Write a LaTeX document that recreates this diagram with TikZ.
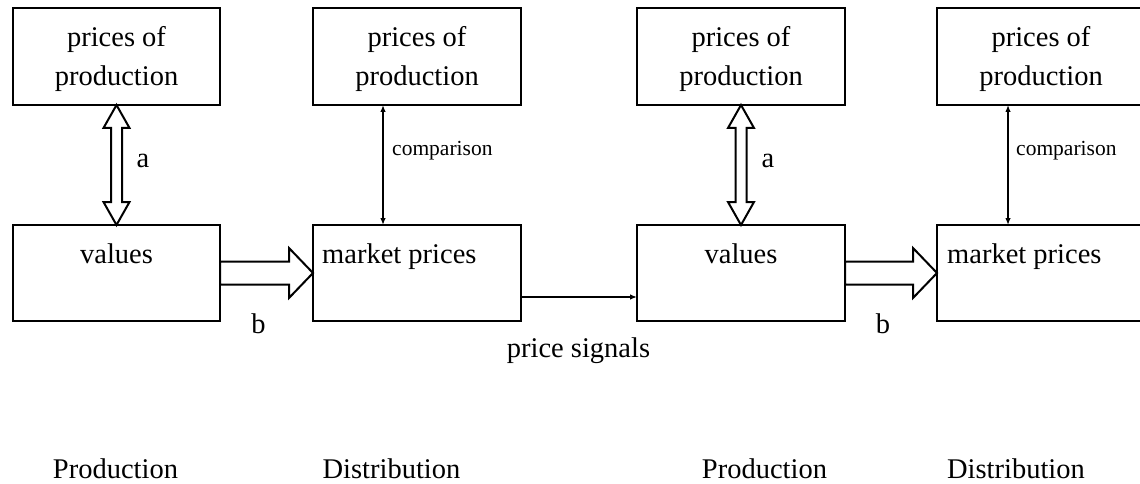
\documentclass[tikz,border=0pt]{standalone}
\usepackage{fontspec}
\setmainfont{Liberation Serif}
\usetikzlibrary{arrows.meta,calc}
\tikzset{
  box/.style={draw, line width=2pt, minimum width=208pt, inner sep=0pt, outer sep=0pt},
  topbox/.style={box, minimum height=97pt},
  botbox/.style={box, minimum height=96pt},
  txt/.style={font=\fontsize{28.5}{34}\selectfont, inner sep=0pt, anchor=base},
  txtw/.style={txt, anchor=base west},
  small/.style={font=\fontsize{21.5}{26}\selectfont, inner sep=0pt, anchor=base west},
  fat/.style={draw, line width=2pt, fill=white, line join=miter},
  thinarr/.style={draw, line width=1.3pt, -{Latex[length=7pt,width=5.5pt]}},
  thinboth/.style={draw, line width=1.3pt, {Latex[length=7pt,width=5.5pt]}-{Latex[length=7pt,width=5.5pt]}}
}
\begin{document}
\begin{tikzpicture}[x=1pt,y=-1pt]
\useasboundingbox (0,0) rectangle (1140,484);
\clip (0,0) rectangle (1140,484);
% boxes
\node[topbox, minimum width=207pt] (p1) at (116.5,56.5) {};
\node[botbox, minimum width=207pt] (v1) at (116.5,273) {};
\node[topbox] (p2) at (417,56.5) {};
\node[botbox] (m2) at (417,273) {};
\node[topbox] (p3) at (741,56.5) {};
\node[botbox] (v3) at (741,273) {};
\node[topbox] (p4) at (1041,56.5) {};
\node[botbox] (m4) at (1041,273) {};
% box texts
\foreach \cx/\nm in {116.5/1,417/2,741/3,1041/4}{
  \node[txt] (pa\nm) at (\cx,47) {prices of};
  \node[txt] (pb\nm) at (\cx,86) {production};
}
\node[txt] (vt1) at (116.5,263) {values};
\node[txt] (vt3) at (741,263) {values};
\node[txtw] (mt2) at (322,263) {market prices};
\node[txtw] (mt4) at (947,263) {market prices};
% double arrows a
\foreach \p/\v in {p1/v1,p3/v3}{
  \draw[fat] (\p.south) -- ++(13,23) -- ++(-7.5,0) -- ($(\v.north)+(5.5,-23)$) -- ++(7.5,0) -- (\v.north)
     -- ++(-13,-23) -- ++(7.5,0) -- ($(\p.south)+(-5.5,23)$) -- ++(-7.5,0) -- cycle;
}
\node[txt] (a1) at (143,167) {a};
\node[txt] (a3) at (768,167) {a};
% block arrows b
\foreach \s/\t in {v1/m2,v3/m4}{
  \draw[fat] ($(\s.east)+(0,-11.5)$) -- ($(\t.west)+(-24,-11.5)$) -- ++(0,-13.5) -- (\t.west)
     -- ++(-24,25) -- ++(0,-13.5) -- ($(\s.east)+(0,11.5)$) -- cycle;
}
\node[txt] (b1) at (258.5,333) {b};
\node[txt] (b3) at (883,333) {b};
% comparison arrows
\draw[thinboth] ([xshift=-34pt]p2.south) -- ([xshift=-34pt]m2.north);
\draw[thinboth] ([xshift=-33pt]p4.south) -- ([xshift=-33pt]m4.north);
\node[small] (c2) at (392,155) {comparison};
\node[small] (c4) at (1016,155) {comparison};
% price signals
\draw[thinarr] ([yshift=-24pt]m2.east) -- ([yshift=-24pt]v3.west);
\node[txt] (ps) at (578.5,357) {price signals};
% bottom labels
\node[txt] (l1) at (115.5,478) {Production};
\node[txt] (l2) at (391.5,478) {Distribution};
\node[txt] (l3) at (764.5,478) {Production};
\node[txt] (l4) at (1016,478) {Distribution};
\end{tikzpicture}
\end{document}
